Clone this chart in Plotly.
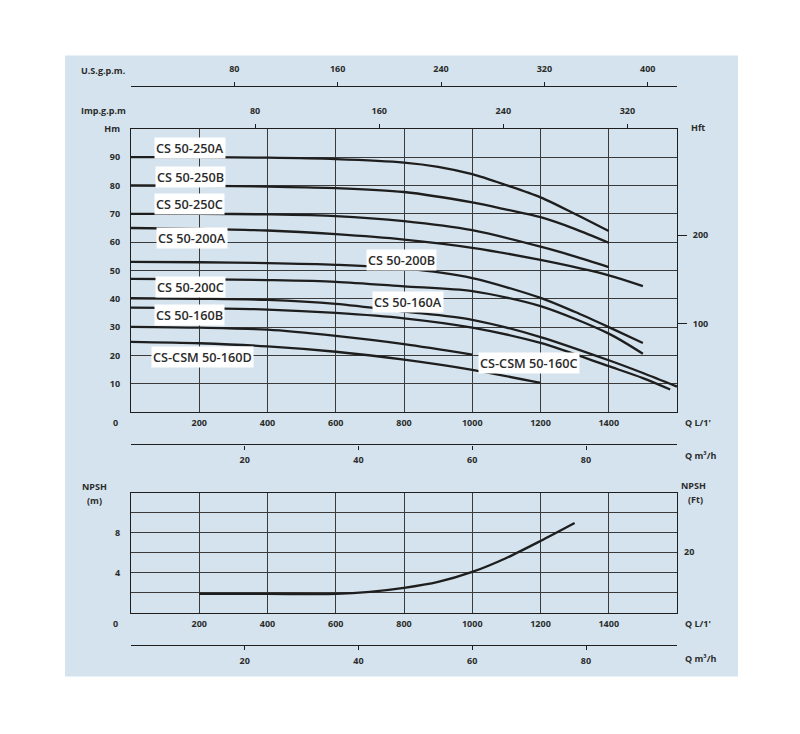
import plotly.graph_objects as go

# flow in L/min, head in m
q_250a = [0, 200, 400, 600, 800, 900, 1000, 1100, 1200, 1300, 1400]
h_250a = [90, 90, 89.8, 89.3, 88.1, 86.6, 84.0, 80.1, 75.8, 70.0, 63.9]
q_250b = [0, 200, 400, 600, 800, 1000, 1100, 1200, 1300, 1400]
h_250b = [80, 79.9, 79.6, 79.1, 77.7, 74.0, 71.5, 68.8, 64.7, 59.8]
q_250c = [0, 200, 400, 600, 800, 1000, 1200, 1300, 1400]
h_250c = [70, 70, 69.8, 69.2, 67.4, 64.2, 58.4, 55.0, 51.2]
q_200a = [0, 200, 400, 600, 800, 1000, 1200, 1400, 1500]
h_200a = [65, 64.7, 64.1, 62.8, 60.9, 58.0, 53.7, 48.3, 44.5]
q_200b = [0, 200, 400, 600, 800, 1000, 1200, 1300, 1400, 1500]
h_200b = [53, 52.9, 52.6, 52.0, 50.7, 47.3, 40.3, 35.4, 30.0, 24.4]
q_200c = [0, 200, 400, 600, 800, 1000, 1200, 1400, 1500]
h_200c = [47, 46.9, 46.6, 46.0, 44.4, 42.7, 37.4, 27.7, 20.6]
q_160a = [0, 200, 400, 600, 800, 1000, 1200, 1400, 1500, 1600]
h_160a = [40.2, 40.0, 39.6, 38.2, 35.5, 32.6, 26.5, 18.3, 13.8, 9.0]
q_160b = [0, 200, 400, 600, 800, 1000, 1200, 1400, 1500, 1580]
h_160b = [36.9, 36.7, 36.2, 35.0, 33.1, 29.8, 24.4, 16.2, 12.0, 8.0]
q_160c = [0, 200, 400, 600, 800, 1000]
h_160c = [30.1, 29.8, 29.1, 26.9, 24.0, 20.3]
q_160d = [0, 200, 400, 600, 800, 1000, 1200]
h_160d = [24.8, 24.3, 23.2, 21.3, 18.5, 14.9, 10.3]

curve_names = ["CS 50-250A", "CS 50-250B", "CS 50-250C", "CS 50-200A", "CS 50-200B",
               "CS 50-200C", "CS 50-160A", "CS 50-160B", "CS-CSM 50-160C", "CS-CSM 50-160D"]

q_npsh = [200, 400, 600, 700, 800, 900, 1000, 1100, 1200, 1300]
h_npsh = [1.9, 1.9, 1.9, 2.1, 2.5, 3.1, 4.1, 5.5, 7.2, 9.0]

q_ticks = [200, 400, 600, 800, 1000, 1200, 1400]
usgpm_ticks = [80, 160, 240, 320, 400]
impgpm_ticks = [80, 160, 240, 320]
m3h_ticks = [20, 40, 60, 80]
hft_ticks = [100, 200]

L_PER_USGAL = 3.78541
L_PER_IMPGAL = 4.54609
FT = 0.3048
QMAX = 1600
HFT_MAX = 320  # the printed Hft scale runs a little short of the exact conversion

W, H = 800, 734


def px(X):
    return X / W


def py(Y):
    return 1 - Y / H


INK = "#1e1e1e"
TXT = "#2b2b2b"
GRID = "#3a3a3a"
FONT = "Open Sans"
tick_font = dict(family=FONT, size=9, color=TXT, weight="bold")

fig = go.Figure()

curves = [(q_250a, h_250a), (q_250b, h_250b), (q_250c, h_250c), (q_200a, h_200a),
          (q_200b, h_200b), (q_200c, h_200c), (q_160a, h_160a), (q_160b, h_160b),
          (q_160c, h_160c), (q_160d, h_160d)]
for name, (q, h) in zip(curve_names, curves):
    fig.add_trace(go.Scatter(x=q, y=h, mode="lines", name=name,
                             line=dict(color=INK, width=2.3, shape="spline", smoothing=0.8),
                             xaxis="x", yaxis="y", showlegend=False))

fig.add_trace(go.Scatter(x=q_npsh, y=h_npsh, mode="lines", name="NPSH",
                         line=dict(color=INK, width=2.3, shape="spline", smoothing=0.8),
                         xaxis="x2", yaxis="y3", showlegend=False))

# empty traces so the secondary scales get drawn
for xa, ya in [("x3", "y"), ("x4", "y"), ("x5", "y"), ("x", "y2"), ("x6", "y3"), ("x2", "y4")]:
    fig.add_trace(go.Scatter(x=[None], y=[None], xaxis=xa, yaxis=ya,
                             showlegend=False, hoverinfo="skip"))

dom_x = [px(131), px(677)]
main_y = [py(409), py(123)]
npsh_y = [py(611.7), py(490.7)]

frame = dict(showline=True, linecolor=INK, linewidth=1.3, mirror=True,
             showgrid=True, gridcolor=GRID, gridwidth=1, zeroline=False,
             tickfont=tick_font, fixedrange=True)

q_vals = [0] + q_ticks + [QMAX]
q_text = [""] + [str(v) for v in q_ticks] + [""]

fig.update_layout(
    width=W, height=H,
    margin=dict(l=0, r=0, t=0, b=0),
    paper_bgcolor="white",
    plot_bgcolor="white",
    font=dict(family=FONT, color=TXT),
    xaxis=dict(frame, domain=dom_x, anchor="y", range=[0, QMAX],
               tickvals=q_vals, ticktext=q_text, ticks="", ticklabelstandoff=2),
    yaxis=dict(frame, domain=main_y, anchor="x", range=[0, 100],
               tickvals=list(range(0, 101, 10)),
               ticktext=[""] + [str(v) for v in range(10, 100, 10)] + ["Hm"],
               ticks="", ticklabelstandoff=8),
    yaxis2=dict(overlaying="y", side="right", anchor="x", range=[0, HFT_MAX],
                tickvals=hft_ticks, ticks="outside", ticklen=9, tickcolor=INK, tickwidth=1.3,
                showgrid=False, showline=False, zeroline=False, tickfont=tick_font,
                ticklabelstandoff=4, fixedrange=True),
    xaxis3=dict(overlaying="x", side="top", anchor="free", position=py(80),
                range=[0, QMAX / L_PER_USGAL], tickvals=usgpm_ticks,
                ticks="outside", ticklen=4, tickcolor=INK, showline=True, linecolor=INK,
                linewidth=1.3, showgrid=False, zeroline=False, tickfont=tick_font,
                ticklabelstandoff=6, fixedrange=True),
    xaxis4=dict(overlaying="x", side="top", anchor="y",
                range=[0, QMAX / L_PER_IMPGAL], tickvals=impgpm_ticks,
                ticks="outside", ticklen=4, tickcolor=INK, showline=False,
                showgrid=False, zeroline=False, tickfont=tick_font,
                ticklabelstandoff=6, fixedrange=True),
    xaxis5=dict(overlaying="x", side="bottom", anchor="free", position=py(441.7),
                range=[0, QMAX * 60 / 1000], tickvals=m3h_ticks,
                ticks="outside", ticklen=4, tickcolor=INK, showline=True, linecolor=INK,
                linewidth=1.3, showgrid=False, zeroline=False, tickfont=tick_font,
                ticklabelstandoff=3, fixedrange=True),
    xaxis2=dict(frame, domain=dom_x, anchor="y3", range=[0, QMAX],
                tickvals=q_vals, ticktext=q_text, ticks="", ticklabelstandoff=2),
    yaxis3=dict(frame, domain=npsh_y, anchor="x2", range=[0, 12],
                tickvals=list(range(0, 13, 2)),
                ticktext=["", "", "4", "", "8", "", ""],
                ticks="", ticklabelstandoff=8),
    yaxis4=dict(overlaying="y3", side="right", anchor="x2", range=[0, 12 / FT],
                tickvals=[20], ticks="", showgrid=False, showline=False, zeroline=False,
                tickfont=tick_font, ticklabelstandoff=6, fixedrange=True),
    xaxis6=dict(overlaying="x2", side="bottom", anchor="free", position=py(643.7),
                range=[0, QMAX * 60 / 1000], tickvals=m3h_ticks,
                ticks="outside", ticklen=4, tickcolor=INK, showline=True, linecolor=INK,
                linewidth=1.3, showgrid=False, zeroline=False, tickfont=tick_font,
                ticklabelstandoff=3, fixedrange=True),
)

# light blue panel behind everything
fig.add_shape(type="rect", xref="paper", yref="paper", layer="below",
              x0=px(65), x1=px(738), y0=py(676), y1=py(49),
              fillcolor="#d4e3ed", line=dict(width=0))

# curve labels (q in L/min, head in m)
label_pos = [(173, 93.1), (173, 83.0), (172, 73.3), (178, 61.3), (794, 53.7),
             (174, 44.1), (812, 38.8), (172, 34.3), (1166, 17.3), (209, 19.6)]
for name, (lx, ly) in zip(curve_names, label_pos):
    fig.add_annotation(x=lx, y=ly, xref="x", yref="y", text=name, showarrow=False,
                       font=dict(family=FONT, size=12.7, color=TXT, weight=600),
                       bgcolor="white", borderpad=1)

# axis captions
captions = [
    ("U.S.g.p.m.", 128, 64.5, "right"),
    ("Imp.g.p.m", 128, 105, "right"),
    ("0", 120, 419.5, "right"),
    ("Hft", 689, 121.5, "left"),
    ("Q L/1'", 683, 420, "left"),
    ("Q m³/h", 683, 453, "left"),
    ("NPSH", 94, 484, "center"),
    ("(m)", 94, 498, "center"),
    ("NPSH", 693, 483.5, "center"),
    ("(Ft)", 695, 497.5, "center"),
    ("0", 120, 622.7, "right"),
    ("Q L/1'", 683, 622.7, "left"),
    ("Q m³/h", 683, 657.7, "left"),
]
for txt, X, Y, anc in captions:
    fig.add_annotation(x=px(X), y=py(Y), xref="paper", yref="paper", text=txt,
                       showarrow=False, xanchor=anc, yanchor="middle",
                       font=dict(family=FONT, size=9, color=TXT, weight="bold"))

# drop the default page margin so the figure sits at the window corner
fig.write_html("out.html", config={"displayModeBar": False},
               post_script="document.body.style.margin='0';document.body.style.overflow='hidden';")
